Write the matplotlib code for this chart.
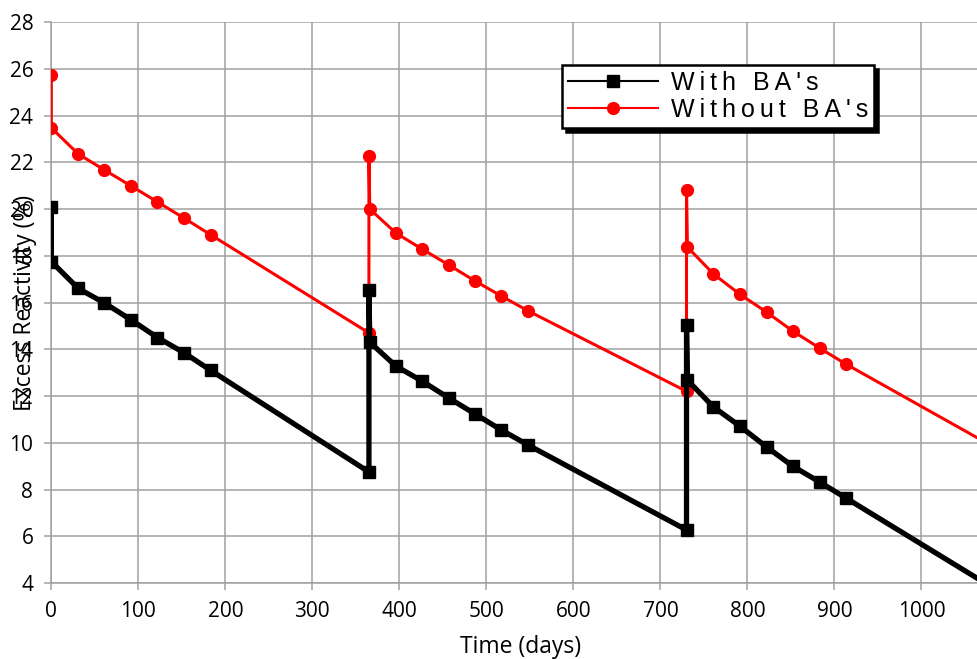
import matplotlib.pyplot as plt
from matplotlib.lines import Line2D
import numpy as np

plt.rcParams['font.family'] = ['Open Sans', 'DejaVu Sans']

# With BA's
days_ba = [0, 0, 31, 61, 92, 122, 153, 183, 365, 365, 366, 396, 426, 457, 487, 517, 548,
           730, 730, 731, 761, 791, 822, 852, 883, 913, 1095]
rho_ba = [20.1, 17.75, 16.6, 15.98, 15.25, 14.5, 13.84, 13.1, 8.75, 16.55, 14.3, 13.28, 12.64,
          11.91, 11.23, 10.55, 9.9, 6.27, 15.05, 12.68, 11.53, 10.72, 9.82, 9.0, 8.32, 7.64, 3.5]

# Without BA's
days_nba = [0, 0, 31, 61, 92, 122, 153, 183, 365, 365, 366, 396, 426, 457, 487, 517, 548,
            730, 730, 731, 761, 791, 822, 852, 883, 913, 1095]
rho_nba = [25.73, 23.47, 22.35, 21.67, 20.98, 20.3, 19.6, 18.9, 14.7, 22.27, 20.0, 18.97, 18.29,
           17.6, 16.92, 16.28, 15.64, 12.2, 20.81, 18.37, 17.22, 16.36, 15.59, 14.78, 14.05, 13.37, 9.57]

labels = ["With BA's", "Without BA's"]


def spaced(s):
    # legend text in the original is letter-spaced
    return '\u2009'.join(s)


fig = plt.figure(figsize=(9.78, 6.59), dpi=100)
ax = fig.add_axes([0.0525, 0.1153, 0.9475, 0.8513])

ax.plot(days_nba, rho_nba, color='#ff0000', lw=2.2, marker='o', ms=8.5, zorder=3)
ax.plot(days_ba, rho_ba, color='black', lw=3.8, marker='s', ms=8.5, zorder=4)

ax.set_xlim(0, 1065)
ax.set_ylim(4, 28)
ax.set_xticks(np.arange(0, 1001, 100))
ax.set_yticks(np.arange(4, 29, 2))
ax.grid(True, color='#a0a0a0', lw=1.1)
ax.set_axisbelow(True)
for s in ['top', 'right']:
    ax.spines[s].set_visible(False)
for s in ['left', 'bottom']:
    ax.spines[s].set_color('#a0a0a0')
    ax.spines[s].set_linewidth(1.1)
ax.tick_params(colors='#a0a0a0', labelcolor='black', labelsize=15, length=5, width=1.1)
ax.tick_params(axis='x', pad=8)
ax.tick_params(axis='y', pad=8)

fig.text(0.532, 0.018, 'Time (days)', fontsize=16.5, ha='center', va='center')
fig.text(0.026, 0.54, 'Excess Reactivity (%)', rotation=90, fontsize=16.5,
         ha='center', va='center')

handles = [Line2D([], [], color='black', lw=1.5, marker='s', ms=8.5),
           Line2D([], [], color='#ff0000', lw=1.5, marker='o', ms=8.5)]
leg = ax.legend(handles, [spaced(l) for l in labels], loc='upper left',
                bbox_to_anchor=(0.5746, 0.9014), bbox_transform=fig.transFigure,
                fancybox=False, edgecolor='black', framealpha=1, borderaxespad=0,
                prop={'family': ['Liberation Sans', 'DejaVu Sans'], 'size': 18},
                handlelength=3.6, labelspacing=0.1, borderpad=0.25, handletextpad=0.5,
                shadow={'color': 'black', 'alpha': 1, 'ox': 3, 'oy': -3})
leg.get_frame().set_linewidth(1.8)

fig.savefig('out.png', dpi=100)
